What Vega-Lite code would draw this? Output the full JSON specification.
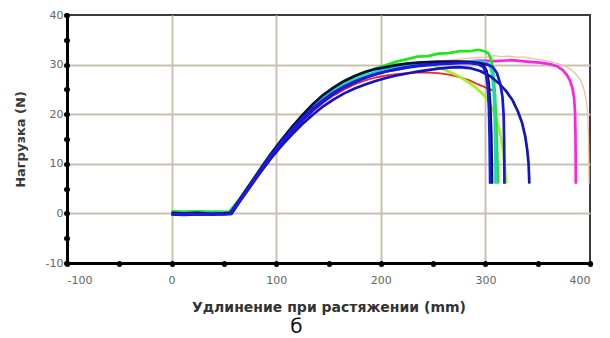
{
  "$schema": "https://vega.github.io/schema/vega-lite/v6.json",
  "width": 523,
  "height": 248,
  "autosize": "none",
  "padding": {"left": 67, "top": 15, "right": 20, "bottom": 75},
  "background": "white",
  "config": {"view": {"stroke": "#3c3c3c", "strokeWidth": 2}},
  "title": {"text": "б", "orient": "bottom", "anchor": "middle", "dx": -32, "offset": 3, "fontSize": 20, "fontWeight": "normal", "font": "DejaVu Sans", "color": "#111"},
  "datasets": {
    "curves": [
      {"s":"tan","x":0,"y":0.0},{"s":"tan","x":12,"y":0.1},{"s":"tan","x":25,"y":0.0},{"s":"tan","x":38,"y":0.1},{"s":"tan","x":50,"y":0.0},{"s":"tan","x":57,"y":0.0},{"s":"tan","x":65,"y":2.3},{"s":"tan","x":75,"y":5.4},{"s":"tan","x":85,"y":8.5},{"s":"tan","x":95,"y":11.4},{"s":"tan","x":105,"y":14.1},{"s":"tan","x":115,"y":16.6},{"s":"tan","x":125,"y":18.9},{"s":"tan","x":135,"y":21.0},{"s":"tan","x":145,"y":22.8},{"s":"tan","x":155,"y":24.3},{"s":"tan","x":165,"y":25.6},{"s":"tan","x":175,"y":26.7},{"s":"tan","x":185,"y":27.6},{"s":"tan","x":195,"y":28.3},{"s":"tan","x":205,"y":28.9},{"s":"tan","x":225,"y":29.8},{"s":"tan","x":245,"y":30.4},{"s":"tan","x":265,"y":30.9},{"s":"tan","x":285,"y":31.3},{"s":"tan","x":300,"y":31.5},{"s":"tan","x":308,"y":31.8},{"s":"tan","x":315,"y":31.6},{"s":"tan","x":322,"y":31.7},{"s":"tan","x":330,"y":31.5},{"s":"tan","x":338,"y":31.5},{"s":"tan","x":345,"y":31.2},{"s":"tan","x":358,"y":30.8},{"s":"tan","x":368,"y":30.3},{"s":"tan","x":376,"y":29.7},{"s":"tan","x":382,"y":29.0},{"s":"tan","x":387,"y":28.0},{"s":"tan","x":391,"y":26.8},{"s":"tan","x":394,"y":25.2},{"s":"tan","x":396.3,"y":23.0},{"s":"tan","x":397.7,"y":20.3},{"s":"tan","x":398.5,"y":16},{"s":"tan","x":398.9,"y":11},{"s":"tan","x":399.1,"y":6},

      {"s":"red","x":0,"y":0.0},{"s":"red","x":12,"y":-0.1},{"s":"red","x":25,"y":0.0},{"s":"red","x":38,"y":-0.1},{"s":"red","x":50,"y":0.0},{"s":"red","x":58,"y":0.0},{"s":"red","x":65,"y":2.2},{"s":"red","x":75,"y":5.2},{"s":"red","x":85,"y":8.2},{"s":"red","x":95,"y":11.1},{"s":"red","x":105,"y":13.8},{"s":"red","x":115,"y":16.3},{"s":"red","x":125,"y":18.6},{"s":"red","x":135,"y":20.6},{"s":"red","x":145,"y":22.3},{"s":"red","x":155,"y":23.8},{"s":"red","x":165,"y":25.0},{"s":"red","x":175,"y":26.0},{"s":"red","x":185,"y":26.8},{"s":"red","x":195,"y":27.4},{"s":"red","x":205,"y":27.8},{"s":"red","x":215,"y":28.1},{"s":"red","x":225,"y":28.3},{"s":"red","x":235,"y":28.4},{"s":"red","x":245,"y":28.4},{"s":"red","x":255,"y":28.3},{"s":"red","x":265,"y":28.0},{"s":"red","x":275,"y":27.5},{"s":"red","x":285,"y":26.8},{"s":"red","x":293,"y":26.0},{"s":"red","x":300,"y":25.4},{"s":"red","x":305,"y":25.0},{"s":"red","x":309,"y":24.6},

      {"s":"magenta","x":0,"y":-0.1},{"s":"magenta","x":12,"y":0.0},{"s":"magenta","x":25,"y":-0.1},{"s":"magenta","x":38,"y":0.0},{"s":"magenta","x":50,"y":-0.1},{"s":"magenta","x":57,"y":0.0},{"s":"magenta","x":65,"y":2.4},{"s":"magenta","x":75,"y":5.5},{"s":"magenta","x":85,"y":8.6},{"s":"magenta","x":95,"y":11.5},{"s":"magenta","x":105,"y":14.2},{"s":"magenta","x":115,"y":16.7},{"s":"magenta","x":125,"y":19.0},{"s":"magenta","x":135,"y":21.1},{"s":"magenta","x":145,"y":22.9},{"s":"magenta","x":155,"y":24.4},{"s":"magenta","x":165,"y":25.7},{"s":"magenta","x":175,"y":26.8},{"s":"magenta","x":185,"y":27.6},{"s":"magenta","x":195,"y":28.3},{"s":"magenta","x":205,"y":28.8},{"s":"magenta","x":215,"y":29.3},{"s":"magenta","x":225,"y":29.6},{"s":"magenta","x":235,"y":29.9},{"s":"magenta","x":245,"y":30.2},{"s":"magenta","x":255,"y":30.4},{"s":"magenta","x":265,"y":30.5},{"s":"magenta","x":280,"y":30.6},{"s":"magenta","x":295,"y":30.8},{"s":"magenta","x":310,"y":30.7},{"s":"magenta","x":325,"y":30.9},{"s":"magenta","x":340,"y":30.6},{"s":"magenta","x":352,"y":30.4},{"s":"magenta","x":362,"y":30.1},{"s":"magenta","x":369,"y":29.6},{"s":"magenta","x":374,"y":28.9},{"s":"magenta","x":378,"y":27.9},{"s":"magenta","x":381,"y":26.7},{"s":"magenta","x":383.3,"y":25.2},{"s":"magenta","x":384.8,"y":23.2},{"s":"magenta","x":385.7,"y":20.5},{"s":"magenta","x":386.1,"y":16},{"s":"magenta","x":386.3,"y":11},{"s":"magenta","x":386.4,"y":6},

      {"s":"yellowgreen","x":0,"y":0.3},{"s":"yellowgreen","x":12,"y":0.4},{"s":"yellowgreen","x":25,"y":0.3},{"s":"yellowgreen","x":38,"y":0.4},{"s":"yellowgreen","x":50,"y":0.3},{"s":"yellowgreen","x":55,"y":0.2},{"s":"yellowgreen","x":65,"y":2.9},{"s":"yellowgreen","x":75,"y":6.0},{"s":"yellowgreen","x":85,"y":9.0},{"s":"yellowgreen","x":95,"y":12.0},{"s":"yellowgreen","x":105,"y":14.8},{"s":"yellowgreen","x":115,"y":17.4},{"s":"yellowgreen","x":125,"y":19.8},{"s":"yellowgreen","x":135,"y":22.0},{"s":"yellowgreen","x":145,"y":23.8},{"s":"yellowgreen","x":155,"y":25.3},{"s":"yellowgreen","x":165,"y":26.6},{"s":"yellowgreen","x":175,"y":27.7},{"s":"yellowgreen","x":185,"y":28.6},{"s":"yellowgreen","x":195,"y":29.2},{"s":"yellowgreen","x":205,"y":29.7},{"s":"yellowgreen","x":215,"y":30.0},{"s":"yellowgreen","x":225,"y":30.2},{"s":"yellowgreen","x":235,"y":30.3},{"s":"yellowgreen","x":243,"y":30.2},{"s":"yellowgreen","x":250,"y":29.8},{"s":"yellowgreen","x":258,"y":29.2},{"s":"yellowgreen","x":266,"y":28.5},{"s":"yellowgreen","x":274,"y":27.7},{"s":"yellowgreen","x":282,"y":26.7},{"s":"yellowgreen","x":290,"y":25.5},{"s":"yellowgreen","x":297,"y":24.2},{"s":"yellowgreen","x":303,"y":22.6},{"s":"yellowgreen","x":308,"y":20.5},{"s":"yellowgreen","x":312,"y":18.0},{"s":"yellowgreen","x":315,"y":15.2},{"s":"yellowgreen","x":317.3,"y":12},{"s":"yellowgreen","x":318.8,"y":9},{"s":"yellowgreen","x":319.5,"y":6},

      {"s":"green","x":0,"y":0.4},{"s":"green","x":12,"y":0.3},{"s":"green","x":25,"y":0.4},{"s":"green","x":38,"y":0.3},{"s":"green","x":50,"y":0.3},{"s":"green","x":55,"y":0.3},{"s":"green","x":65,"y":2.9},{"s":"green","x":75,"y":5.9},{"s":"green","x":85,"y":8.9},{"s":"green","x":95,"y":11.9},{"s":"green","x":105,"y":14.7},{"s":"green","x":115,"y":17.3},{"s":"green","x":125,"y":19.6},{"s":"green","x":135,"y":21.8},{"s":"green","x":145,"y":23.6},{"s":"green","x":155,"y":25.1},{"s":"green","x":165,"y":26.4},{"s":"green","x":175,"y":27.5},{"s":"green","x":185,"y":28.4},{"s":"green","x":195,"y":29.2},{"s":"green","x":205,"y":29.9},{"s":"green","x":215,"y":30.6},{"s":"green","x":225,"y":31.1},{"s":"green","x":235,"y":31.6},{"s":"green","x":245,"y":31.7},{"s":"green","x":255,"y":32.2},{"s":"green","x":265,"y":32.3},{"s":"green","x":275,"y":32.7},{"s":"green","x":285,"y":32.7},{"s":"green","x":293,"y":33.0},{"s":"green","x":299,"y":32.7},{"s":"green","x":303,"y":32.2},{"s":"green","x":305.5,"y":31.0},{"s":"green","x":307.5,"y":28.5},{"s":"green","x":309.2,"y":24},{"s":"green","x":310.4,"y":18},{"s":"green","x":311.3,"y":12},{"s":"green","x":311.8,"y":8.5},{"s":"green","x":312.1,"y":6},

      {"s":"cyan","x":0,"y":0.1},{"s":"cyan","x":12,"y":0.2},{"s":"cyan","x":25,"y":0.1},{"s":"cyan","x":38,"y":0.2},{"s":"cyan","x":50,"y":0.1},{"s":"cyan","x":55,"y":0.1},{"s":"cyan","x":65,"y":2.8},{"s":"cyan","x":75,"y":5.8},{"s":"cyan","x":85,"y":8.8},{"s":"cyan","x":95,"y":11.7},{"s":"cyan","x":105,"y":14.4},{"s":"cyan","x":115,"y":16.9},{"s":"cyan","x":125,"y":19.2},{"s":"cyan","x":135,"y":21.3},{"s":"cyan","x":145,"y":23.1},{"s":"cyan","x":155,"y":24.6},{"s":"cyan","x":165,"y":25.9},{"s":"cyan","x":175,"y":26.9},{"s":"cyan","x":185,"y":27.8},{"s":"cyan","x":195,"y":28.5},{"s":"cyan","x":205,"y":29.0},{"s":"cyan","x":215,"y":29.4},{"s":"cyan","x":225,"y":29.7},{"s":"cyan","x":235,"y":29.9},{"s":"cyan","x":245,"y":30.1},{"s":"cyan","x":255,"y":30.3},{"s":"cyan","x":265,"y":30.4},{"s":"cyan","x":275,"y":30.5},{"s":"cyan","x":285,"y":30.6},{"s":"cyan","x":294,"y":30.6},{"s":"cyan","x":300,"y":30.5},{"s":"cyan","x":304,"y":30.0},{"s":"cyan","x":306.3,"y":28.3},{"s":"cyan","x":307.8,"y":25},{"s":"cyan","x":308.8,"y":20},{"s":"cyan","x":309.3,"y":14},{"s":"cyan","x":309.6,"y":9},{"s":"cyan","x":309.7,"y":6},

      {"s":"blueC","x":0,"y":-0.2},{"s":"blueC","x":12,"y":-0.3},{"s":"blueC","x":25,"y":-0.2},{"s":"blueC","x":38,"y":-0.2},{"s":"blueC","x":50,"y":-0.1},{"s":"blueC","x":57,"y":-0.1},{"s":"blueC","x":65,"y":2.4},{"s":"blueC","x":75,"y":5.4},{"s":"blueC","x":85,"y":8.3},{"s":"blueC","x":95,"y":11.1},{"s":"blueC","x":105,"y":13.6},{"s":"blueC","x":115,"y":15.9},{"s":"blueC","x":125,"y":18.0},{"s":"blueC","x":135,"y":19.9},{"s":"blueC","x":145,"y":21.6},{"s":"blueC","x":155,"y":23.0},{"s":"blueC","x":165,"y":24.2},{"s":"blueC","x":175,"y":25.2},{"s":"blueC","x":185,"y":26.0},{"s":"blueC","x":195,"y":26.7},{"s":"blueC","x":205,"y":27.3},{"s":"blueC","x":215,"y":27.8},{"s":"blueC","x":225,"y":28.2},{"s":"blueC","x":235,"y":28.6},{"s":"blueC","x":245,"y":28.9},{"s":"blueC","x":255,"y":29.2},{"s":"blueC","x":265,"y":29.4},{"s":"blueC","x":275,"y":29.5},{"s":"blueC","x":285,"y":29.3},{"s":"blueC","x":295,"y":28.7},{"s":"blueC","x":305,"y":27.6},{"s":"blueC","x":313,"y":26.2},{"s":"blueC","x":320,"y":24.6},{"s":"blueC","x":326,"y":22.8},{"s":"blueC","x":331,"y":20.6},{"s":"blueC","x":335,"y":18.3},{"s":"blueC","x":338,"y":15.6},{"s":"blueC","x":340,"y":12.8},{"s":"blueC","x":341.3,"y":10},{"s":"blueC","x":342,"y":6},

      {"s":"blueB","x":0,"y":-0.1},{"s":"blueB","x":12,"y":-0.2},{"s":"blueB","x":25,"y":-0.1},{"s":"blueB","x":38,"y":-0.2},{"s":"blueB","x":50,"y":-0.1},{"s":"blueB","x":56,"y":0.0},{"s":"blueB","x":65,"y":2.6},{"s":"blueB","x":75,"y":5.6},{"s":"blueB","x":85,"y":8.6},{"s":"blueB","x":95,"y":11.5},{"s":"blueB","x":105,"y":14.2},{"s":"blueB","x":115,"y":16.6},{"s":"blueB","x":125,"y":18.8},{"s":"blueB","x":135,"y":20.8},{"s":"blueB","x":145,"y":22.6},{"s":"blueB","x":155,"y":24.1},{"s":"blueB","x":165,"y":25.4},{"s":"blueB","x":175,"y":26.4},{"s":"blueB","x":185,"y":27.3},{"s":"blueB","x":195,"y":28.0},{"s":"blueB","x":205,"y":28.6},{"s":"blueB","x":215,"y":29.1},{"s":"blueB","x":225,"y":29.5},{"s":"blueB","x":235,"y":29.8},{"s":"blueB","x":245,"y":30.0},{"s":"blueB","x":255,"y":30.2},{"s":"blueB","x":265,"y":30.3},{"s":"blueB","x":275,"y":30.4},{"s":"blueB","x":285,"y":30.4},{"s":"blueB","x":295,"y":30.3},{"s":"blueB","x":302,"y":30.0},{"s":"blueB","x":307,"y":29.5},{"s":"blueB","x":311,"y":28.3},{"s":"blueB","x":314,"y":26.3},{"s":"blueB","x":316.3,"y":23.5},{"s":"blueB","x":317.4,"y":20},{"s":"blueB","x":317.9,"y":15},{"s":"blueB","x":318.1,"y":10},{"s":"blueB","x":318.2,"y":6},

      {"s":"black","x":0,"y":0.1},{"s":"black","x":12,"y":0.0},{"s":"black","x":25,"y":0.1},{"s":"black","x":38,"y":-0.1},{"s":"black","x":50,"y":0.0},{"s":"black","x":56,"y":0.1},{"s":"black","x":65,"y":2.8},{"s":"black","x":75,"y":5.9},{"s":"black","x":85,"y":9.0},{"s":"black","x":95,"y":12.0},{"s":"black","x":105,"y":14.8},{"s":"black","x":115,"y":17.4},{"s":"black","x":125,"y":19.8},{"s":"black","x":135,"y":22.0},{"s":"black","x":145,"y":23.9},{"s":"black","x":155,"y":25.4},{"s":"black","x":165,"y":26.7},{"s":"black","x":175,"y":27.7},{"s":"black","x":185,"y":28.5},{"s":"black","x":195,"y":29.1},{"s":"black","x":205,"y":29.5},{"s":"black","x":215,"y":29.9},{"s":"black","x":225,"y":30.2},{"s":"black","x":235,"y":30.4},{"s":"black","x":245,"y":30.5},{"s":"black","x":255,"y":30.6},{"s":"black","x":265,"y":30.6},{"s":"black","x":275,"y":30.6},{"s":"black","x":285,"y":30.5},{"s":"black","x":293,"y":30.3},{"s":"black","x":298,"y":29.9},{"s":"black","x":301,"y":28.8},{"s":"black","x":303,"y":26.5},{"s":"black","x":304.6,"y":22},{"s":"black","x":305.6,"y":16},{"s":"black","x":306.1,"y":10},{"s":"black","x":306.3,"y":6},

      {"s":"blueA","x":0,"y":-0.2},{"s":"blueA","x":12,"y":-0.1},{"s":"blueA","x":25,"y":-0.2},{"s":"blueA","x":38,"y":-0.1},{"s":"blueA","x":50,"y":-0.2},{"s":"blueA","x":56,"y":-0.1},{"s":"blueA","x":65,"y":2.6},{"s":"blueA","x":75,"y":5.7},{"s":"blueA","x":85,"y":8.8},{"s":"blueA","x":95,"y":11.7},{"s":"blueA","x":105,"y":14.4},{"s":"blueA","x":115,"y":16.9},{"s":"blueA","x":125,"y":19.2},{"s":"blueA","x":135,"y":21.2},{"s":"blueA","x":145,"y":22.9},{"s":"blueA","x":155,"y":24.4},{"s":"blueA","x":165,"y":25.6},{"s":"blueA","x":175,"y":26.6},{"s":"blueA","x":185,"y":27.4},{"s":"blueA","x":195,"y":28.1},{"s":"blueA","x":205,"y":28.6},{"s":"blueA","x":215,"y":29.0},{"s":"blueA","x":225,"y":29.4},{"s":"blueA","x":235,"y":29.7},{"s":"blueA","x":245,"y":29.9},{"s":"blueA","x":255,"y":30.1},{"s":"blueA","x":265,"y":30.2},{"s":"blueA","x":275,"y":30.3},{"s":"blueA","x":285,"y":30.3},{"s":"blueA","x":293,"y":30.1},{"s":"blueA","x":298,"y":29.5},{"s":"blueA","x":300.5,"y":28.3},{"s":"blueA","x":302.3,"y":25.5},{"s":"blueA","x":303.4,"y":21},{"s":"blueA","x":304,"y":15},{"s":"blueA","x":304.3,"y":10},{"s":"blueA","x":304.5,"y":6}
    ]
  },
  "data": {"name": "curves"},
  "encoding": {
    "x": {
      "field": "x", "type": "quantitative",
      "scale": {"domain": [-100, 400], "nice": false, "zero": false},
      "axis": {
        "title": "Удлинение при растяжении (mm)",
        "values": [-100, -50, 0, 50, 100, 150, 200, 250, 300, 350, 400],
        "labelExpr": "datum.value % 100 === 0 ? '' + datum.value : ''",
        "domainColor": "#000", "domainWidth": 3,
        "tickColor": "#000", "tickSize": 1, "tickWidth": 5, "tickCap": "round",
        "labelFont": "DejaVu Sans", "labelFontSize": 11, "labelColor": "#666", "labelPadding": 10,
        "titleFont": "DejaVu Sans", "titleFontSize": 14, "titleFontWeight": "bold", "titleColor": "#333", "titlePadding": 15,
        "grid": true, "gridColor": "#c9c2b2", "gridWidth": 2,
        "gridOpacity": {"condition": {"test": "datum.value % 100 !== 0 || datum.value === -100 || datum.value === 400", "value": 0}, "value": 1}
      }
    },
    "y": {
      "field": "y", "type": "quantitative",
      "scale": {"domain": [-10, 40], "nice": false, "zero": false},
      "axis": {
        "title": "Нагрузка (N)",
        "values": [-10, -5, 0, 5, 10, 15, 20, 25, 30, 35, 40],
        "labelExpr": "datum.value % 10 === 0 ? '' + datum.value : ''",
        "domainColor": "#000", "domainWidth": 3,
        "tickColor": "#000", "tickSize": 1, "tickWidth": 5, "tickCap": "round",
        "labelFont": "DejaVu Sans", "labelFontSize": 11, "labelColor": "#666", "labelPadding": 3,
        "titleFont": "DejaVu Sans", "titleFontSize": 13, "titleFontWeight": "bold", "titleColor": "#3a3a3a", "titlePadding": 18,
        "grid": true, "gridColor": "#c9c2b2", "gridWidth": 2,
        "gridOpacity": {"condition": {"test": "datum.value % 10 !== 0 || datum.value === -10 || datum.value === 40", "value": 0}, "value": 1}
      }
    },
    "color": {
      "field": "s", "type": "nominal", "legend": null,
      "scale": {
        "domain": ["tan", "red", "magenta", "yellowgreen", "green", "cyan", "blueC", "blueB", "black", "blueA"],
        "range": ["#e9c29e", "#f02424", "#ff22e6", "#a6f020", "#22e61a", "#22d4c4", "#1212c0", "#1616dc", "#0c0c48", "#1a1ae6"]
      }
    }
  },
  "layer": [
    {"transform": [{"filter": "datum.s === 'tan'"}], "mark": {"type": "line", "clip": true, "strokeWidth": 1.3, "strokeJoin": "round"}},
    {"transform": [{"filter": "datum.s === 'red'"}], "mark": {"type": "line", "clip": true, "strokeWidth": 1.8, "strokeJoin": "round"}},
    {"transform": [{"filter": "datum.s !== 'tan' && datum.s !== 'red'"}], "mark": {"type": "line", "clip": true, "strokeWidth": 2.7, "strokeJoin": "round"}}
  ]
}
